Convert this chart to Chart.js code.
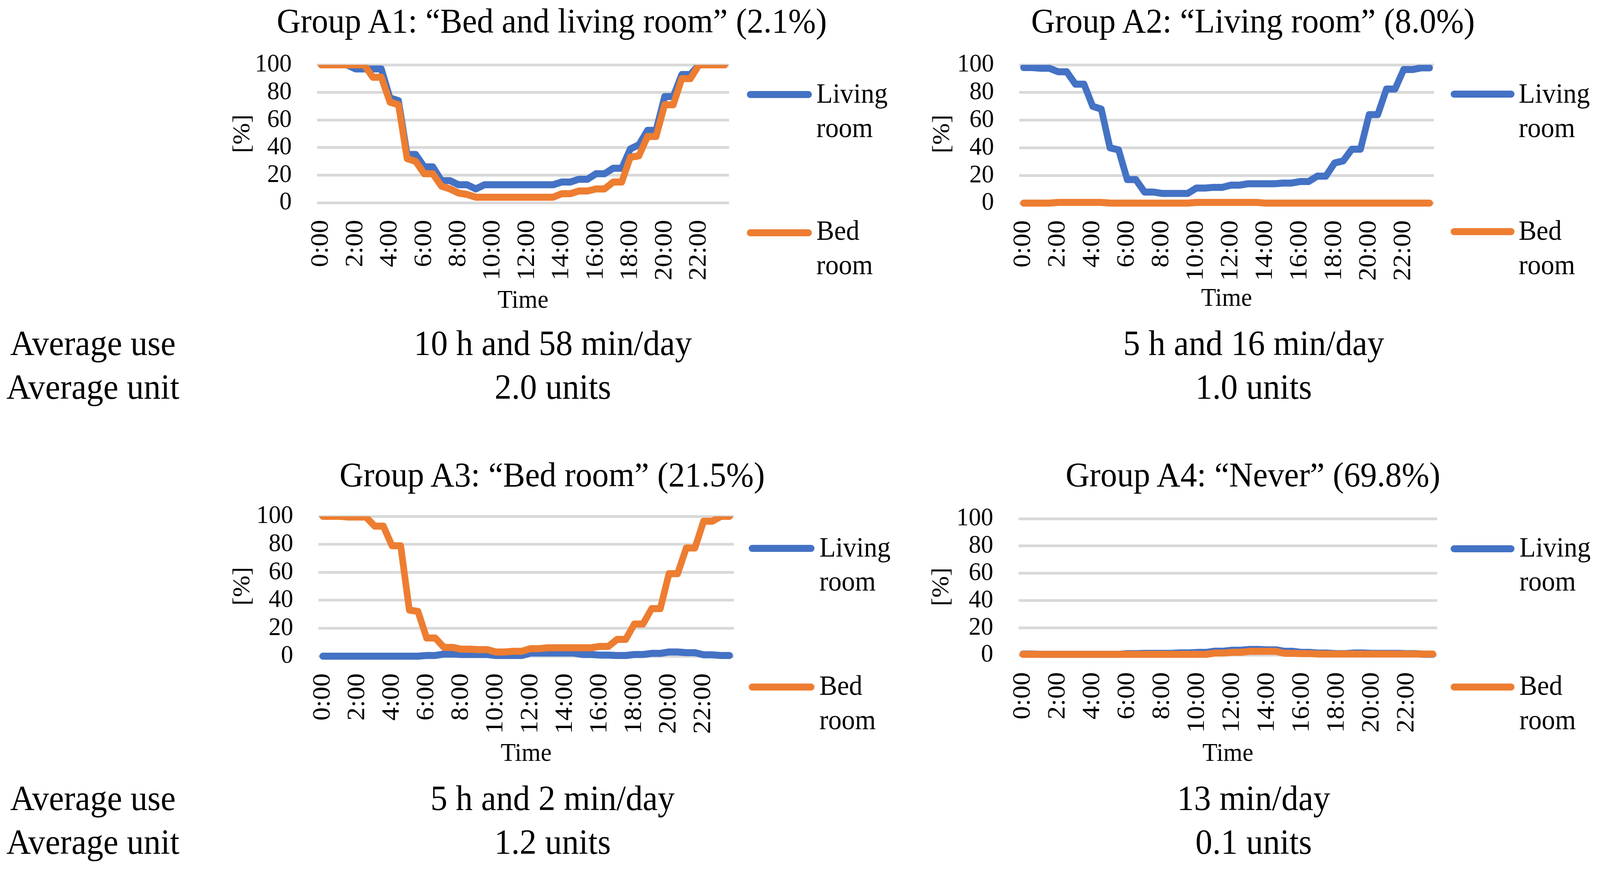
<!DOCTYPE html>
<html><head><meta charset="utf-8">
<script src="https://cdn.jsdelivr.net/npm/chart.js@4.4.0/dist/chart.umd.min.js"></script>
<style>
html,body{margin:0;padding:0;background:#fff;overflow:hidden;}
#root{position:relative;width:4306px;height:2230px;overflow:hidden;background:#fff;font-family:"Liberation Serif",serif;color:#000;transform-origin:0 0;}
canvas{position:absolute;}
.t{position:absolute;white-space:nowrap;line-height:1;}
.sw{position:absolute;height:18px;border-radius:9px;}
</style></head><body><div id="root"></div>
<script>
// ---------- DATA ----------
const timeLabels = ['0:00','0:30','1:00','1:30','2:00','2:30','3:00','3:30','4:00','4:30','5:00','5:30','6:00','6:30','7:00','7:30','8:00','8:30','9:00','9:30','10:00','10:30','11:00','11:30','12:00','12:30','13:00','13:30','14:00','14:30','15:00','15:30','16:00','16:30','17:00','17:30','18:00','18:30','19:00','19:30','20:00','20:30','21:00','21:30','22:00','22:30','23:00','23:30'];
const xTickLabels = ['0:00','2:00','4:00','6:00','8:00','10:00','12:00','14:00','16:00','18:00','20:00','22:00'];
const seriesNames = ['Living room','Bed room'];

const a1Living = [100,100,100,100,97,97,97,97,76,74,35,35,26,26,16,16,13,13,10,13,13,13,13,13,13,13,13,13,15,15,17,17,21,21,25,25,39,42,52.5,52.5,77,77,93,93,100,100,100,100];
const a1Bed    = [100,100,100,100,100,100,91,91,73,71,32,30,21,21,12,10,7,6,4,4,4,4,4,4,4,4,4,4,6.5,6.5,8.5,8.5,10,10,15,15,33,34,48,48,71,71,90,90,100,100,100,100];

const a2Living = [98,98,97.5,97.5,95,95,86,86,70,68,40,38.5,17,17,8,8,7,7,7,7,10.9,10.9,11.4,11.4,13,13,14,14,14,14,14.5,14.5,15.6,15.6,19.5,19.5,29,30.5,39,39,64,64,82.5,82.5,96.6,96.6,97.8,97.8];
const a2Bed    = [0,0,0,0,0.5,0.5,0.5,0.5,0.5,0.5,0,0,0,0,0,0,0,0,0,0,0.5,0.5,0.5,0.5,0.5,0.5,0.5,0.5,0,0,0,0,0,0,0,0,0,0,0,0,0,0,0,0,0,0,0,0];

const a3Living = [0,0,0,0,0,0,0,0,0,0,0,0,0.5,0.5,1.5,1.5,1.2,1.2,1.2,1.2,0.5,0.5,0.5,0.5,2.2,2.2,2.2,2.2,2.2,2.2,1.2,1.2,0.8,0.8,0.5,0.5,1.2,1.2,2,2,3,3,2.5,2.5,1,1,0.5,0.5];
const a3Bed    = [100,100,100,99.5,99.5,99.5,93,93,79,79,33,32,13,13,6.3,6.3,5,5,4.7,4.7,3,3,3.5,3.5,5.4,5.4,6,6,6,6,6,6,7,7,12,12,23,23,34,34,59,59,77.4,77.4,96.5,96.5,100,100];

const a4Living = [0.7,0.7,0.5,0.5,0.5,0.5,0.5,0.5,0.5,0.5,0.5,0.5,1,1,1.25,1.25,1.25,1.25,1.6,1.6,1.9,1.9,2.8,2.8,3.5,3.5,4.1,4.1,3.8,3.8,2.7,2.7,1.9,1.9,1.4,1.4,1,1,1.5,1.5,1.25,1.25,1.25,1.25,1,1,0.5,0.5];
const a4Bed    = [0.5,0.5,0.5,0.5,0.5,0.5,0.5,0.5,0.5,0.5,0.5,0.5,0.5,0.5,0.5,0.5,0.5,0.5,0.5,0.5,0.5,0.5,1.4,1.4,2,2,2.7,2.7,2.7,2.7,1.2,1.2,1,1,0.7,0.7,0.7,0.7,0.7,0.7,0.7,0.7,0.7,0.7,0.7,0.7,0.7,0.7];

const panelTitles = ['Group A1: \u201cBed and living room\u201d (2.1%)','Group A2: \u201cLiving room\u201d (8.0%)','Group A3: \u201cBed room\u201d (21.5%)','Group A4: \u201cNever\u201d (69.8%)'];
const rowLabels = ['Average use','Average unit'];
const avgUse  = ['10 h and 58 min/day','5 h and 16 min/day','5 h and 2 min/day','13 min/day'];
const avgUnit = ['2.0 units','1.0 units','1.2 units','0.1 units'];
const yAxisTitle = '[%]';
const xAxisTitle = 'Time';

// ---------- LAYOUT (reference pixel frame 4306 x 2230) ----------
const FONT = 'Liberation Serif';
const COLORS = ['#4472C4','#ED7D31'];
const FS = {title: 89, row: 91, legend: 72, yTick: 66, xTick: 68, axisTitle: 66};
const panels = [
  {living:a1Living, bed:a1Bed, left:600,  top:0,    plotLeft:853,  plotRight:1962, plotTop:166,  plotBottom:519,  timeY:770,
   titleX:1485, titleBase:84, swX:2010, swW:175, legX:2197, swY:[242,596], legBase:[[263,351],[614,702]], valX:1488, rowBase:[909,1021]},
  {living:a2Living, bed:a2Bed, left:2483, top:0,    plotLeft:2743, plotRight:3859, plotTop:166,  plotBottom:520,  timeY:765,
   titleX:3372, titleBase:84, swX:3904, swW:172, legX:4087, swY:[241,593], legBase:[[263,351],[614,702]], valX:3374, rowBase:[909,1021]},
  {living:a3Living, bed:a3Bed, left:600,  top:1130, plotLeft:857,  plotRight:1975, plotTop:1322, plotBottom:1680, timeY:1930,
   titleX:1486, titleBase:1246, swX:2015, swW:177, legX:2205, swY:[1404,1759], legBase:[[1425,1512],[1779,1867]], valX:1487, rowBase:[2074,2186]},
  {living:a4Living, bed:a4Bed, left:2481, top:1130, plotLeft:2741, plotRight:3868, plotTop:1328, plotBottom:1677, timeY:1930,
   titleX:3372, titleBase:1246, swX:3904, swW:172, legX:4089, swY:[1405,1759], legBase:[[1425,1512],[1779,1867]], valX:3374, rowBase:[2074,2186]}
];

const root = document.getElementById('root');
// fit the 4306x2230 design into the actual window
const sx = (window.innerWidth || 4306) / 4306, sy = (window.innerHeight || 2230) / 2230;
root.style.transform = 'scale(' + sx + ',' + sy + ')';

Chart.defaults.font.family = FONT;
Chart.defaults.color = '#000';

function addText(txt, x, base, fs, center) {
  const d = document.createElement('div');
  d.className = 't';
  d.textContent = txt;
  d.style.fontSize = fs + 'px';
  d.style.top = (base - 0.8375 * fs) + 'px';
  d.style.left = x + 'px';
  if (center) d.style.transform = 'translateX(-50%)';
  root.appendChild(d);
}
function addSwatch(x, y, w, color) {
  const d = document.createElement('div');
  d.className = 'sw';
  d.style.left = x + 'px';
  d.style.top = (y - 9) + 'px';
  d.style.width = w + 'px';
  d.style.background = color;
  root.appendChild(d);
}

panels.forEach((p, k) => {
  const padRight = 100;
  const cw = p.plotRight + padRight - p.left;
  const ch = p.timeY + 50 - p.top;
  const yW = p.plotLeft - p.left;
  const xH = p.top + ch - p.plotBottom;
  const cv = document.createElement('canvas');
  cv.width = cw; cv.height = ch;
  cv.style.left = p.left + 'px'; cv.style.top = p.top + 'px';
  cv.style.width = cw + 'px'; cv.style.height = ch + 'px';
  root.appendChild(cv);
  new Chart(cv.getContext('2d'), {
    type: 'line',
    data: {
      labels: timeLabels,
      datasets: [
        {label: seriesNames[0], data: p.living, borderColor: COLORS[0], backgroundColor: COLORS[0], order: 1},
        {label: seriesNames[1], data: p.bed, borderColor: COLORS[1], backgroundColor: COLORS[1], order: 0}
      ]
    },
    options: {
      responsive: false, animation: false, devicePixelRatio: 1,
      layout: {padding: {top: p.plotTop - p.top, right: padRight, bottom: 0, left: 0}},
      elements: {
        point: {radius: 0, hoverRadius: 0},
        line: {borderWidth: 18, tension: 0, borderCapStyle: 'round', borderJoinStyle: 'round', fill: false}
      },
      datasets: {line: {clip: {top: 0, left: false, right: false, bottom: false}}},
      plugins: {legend: {display: false}, tooltip: {enabled: false}, title: {display: false}},
      scales: {
        x: {
          type: 'category', offset: true,
          grid: {display: false, drawTicks: false},
          border: {display: false},
          ticks: {
            autoSkip: false, minRotation: 90, maxRotation: 90, padding: 44,
            font: {size: FS.xTick, family: FONT}, color: '#000',
            callback: function(v, i) { const l = timeLabels[i]; return xTickLabels.includes(l) ? l : null; }
          },
          title: {display: true, text: xAxisTitle, font: {size: FS.axisTitle, family: FONT}, color: '#000', padding: {top: 0, bottom: 10}},
          afterFit: s => { s.height = xH; }
        },
        y: {
          min: 0, max: 100,
          grid: {color: '#D9D9D9', lineWidth: 7, drawTicks: false},
          border: {display: false},
          ticks: {stepSize: 20, autoSkip: false, padding: 68, font: {size: FS.yTick, family: FONT}, color: '#000'},
          title: {display: true, text: yAxisTitle, font: {size: FS.yTick, family: FONT}, color: '#000', padding: {top: 14, bottom: 0}},
          afterFit: s => { s.width = yW; }
        }
      }
    }
  });
  addText(panelTitles[k], p.titleX, p.titleBase, FS.title, true);
  [0,1].forEach(j => {
    addSwatch(p.swX, p.swY[j], p.swW, COLORS[j]);
    const parts = seriesNames[j].split(' ');
    addText(parts[0], p.legX, p.legBase[j][0], FS.legend, false);
    addText(parts[1], p.legX, p.legBase[j][1], FS.legend, false);
  });
  addText(avgUse[k], p.valX, p.rowBase[0], FS.row, true);
  addText(avgUnit[k], p.valX, p.rowBase[1], FS.row, true);
  if (k % 2 === 0) {
    addText(rowLabels[0], 250, p.rowBase[0], FS.row, true);
    addText(rowLabels[1], 250, p.rowBase[1], FS.row, true);
  }
});
</script></body></html>
